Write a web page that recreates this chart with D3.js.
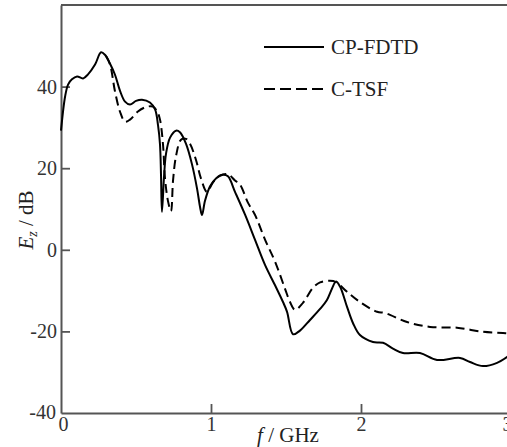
<!DOCTYPE html>
<html>
<head>
<meta charset="utf-8">
<script src="https://cdnjs.cloudflare.com/ajax/libs/d3/7.8.5/d3.min.js"></script>
<style>
    body { margin: 0; background: #fff; }
    text { font-family: "Liberation Serif", "DejaVu Serif", serif; }
</style>
</head>
<body>
<div id="chart"></div>
<script>
// frequency (GHz) and field (dB)
const fdtdFreq = [0, 0.027, 0.047, 0.073, 0.107, 0.147, 0.18, 0.227, 0.267, 0.293, 0.327, 0.36, 0.393, 0.427, 0.46, 0.5,
    0.54, 0.593, 0.627, 0.647, 0.66, 0.667, 0.673, 0.687, 0.7, 0.727, 0.767, 0.793, 0.833, 0.873, 0.907, 0.927, 0.94,
    0.96, 0.993, 1.033, 1.08, 1.113, 1.16, 1.227, 1.293, 1.36, 1.427, 1.48, 1.507, 1.547, 1.593, 1.66, 1.727, 1.773,
    1.807, 1.833, 1.86, 1.907, 1.947, 1.993, 2.08, 2.147, 2.213, 2.28, 2.393, 2.507, 2.66, 2.727, 2.813, 2.907, 2.973, 3.0];
const fdtdDb = [29.2, 37.5, 40.5, 41.8, 42.5, 42.0, 43.0, 45.4, 48.4, 47.8, 45.6, 42.9, 39.0, 36.3, 35.6, 36.5,
    36.8, 36.1, 34.4, 30.5, 25.8, 18, 9.3, 18, 23.5, 27.5, 29.2, 28.8, 26, 21, 15, 10.5, 8.5,
    12, 15.5, 17.5, 18.4, 18, 14.2, 8.6, 2.5, -3.7, -8.7, -12.8, -15.2, -20.7, -19.8, -17.2, -14.5, -12.3,
    -9.5, -7.8, -9, -14, -18, -20.9, -22.6, -22.8, -24.2, -25.3, -25.3, -27, -26.5, -27.5, -28.5, -27.7, -26.3, -25.5];

const tsfFreq = [0.3, 0.327, 0.36, 0.393, 0.427, 0.46, 0.513, 0.567, 0.613, 0.64, 0.66, 0.68, 0.693, 0.713, 0.733,
    0.747, 0.767, 0.8, 0.833, 0.86, 0.9, 0.933, 0.973, 1.013, 1.06, 1.113, 1.16, 1.193, 1.247, 1.293, 1.36, 1.427,
    1.493, 1.527, 1.56, 1.613, 1.68, 1.727, 1.793, 1.833, 1.907, 1.993, 2.107, 2.16, 2.307, 2.46, 2.64, 2.813, 2.947, 3.0];
const tsfDb = [47.5, 45.4, 38.8, 33.9, 31.4, 31.9, 33.9, 35, 35.1, 34, 31.9, 25.8, 17.7, 12, 9.5,
    17, 23, 27, 27.2, 26, 22, 17.5, 14.2, 16.5, 18.2, 18.5, 17, 16, 11.5, 8.6, 2.5, -2.9,
    -9.5, -12.8, -14.7, -13, -9.3, -8.0, -7.6, -7.9, -10.3, -12.8, -15.2, -15.5, -17.7, -18.9, -19.1, -20.1, -20.4, -20.5];

const xTicks = [0, 1, 2, 3];
const yTicks = [-40, -20, 0, 20, 40];
const seriesNames = ["CP-FDTD", "C-TSF"];

const canvWidth = 507, canvHeight = 447;
const plot = {left: 61, right: 511, top: 5, bottom: 413};
const serif = '"Liberation Serif", "DejaVu Serif", serif';

const svg = d3.select('#chart')
    .append('svg')
    .attr('width', canvWidth)
    .attr('height', canvHeight);

const x = d3.scaleLinear().domain([0, 3]).range([plot.left, plot.right]);
const y = d3.scaleLinear().domain([-40, 60]).range([plot.bottom, plot.top]);

const axisColor = "#555";

// frame (top and right edges)
svg.append("path")
    .attr("d", `M${plot.left},${plot.top}H${plot.right}V${plot.bottom}`)
    .attr("fill", "none")
    .attr("stroke", axisColor)
    .attr("stroke-width", 2);

// Y axis, ticks pointing inward
const yAxis = svg.append("g")
    .attr("transform", `translate(${plot.left},0)`)
    .call(d3.axisRight(y).tickValues(yTicks).tickSize(9).tickSizeOuter(0).tickFormat(d => d === -40 ? "" : d));
yAxis.select(".domain").attr("stroke", axisColor).attr("stroke-width", 2);
yAxis.selectAll(".tick line").attr("stroke", axisColor).attr("stroke-width", 1.8)
    .filter(d => d === -40).remove();
yAxis.selectAll(".tick text")
    .attr("x", -4)
    .attr("text-anchor", "end")
    .attr("font-family", serif)
    .style("font-size", "20px")
    .attr("fill", "#333");

// -40 label sits at the corner
svg.append("text")
    .attr("x", 56)
    .attr("y", y(-40))
    .attr("dy", "0.32em")
    .attr("text-anchor", "end")
    .style("font-size", "20px")
    .attr("fill", "#333")
    .text("-40");

// X axis, ticks pointing up
const xAxis = svg.append("g")
    .attr("transform", `translate(0,${plot.bottom})`)
    .call(d3.axisTop(x).tickValues(xTicks).tickSize(9).tickSizeOuter(0).tickFormat(d3.format("d")));
xAxis.select(".domain").attr("stroke", axisColor).attr("stroke-width", 2);
xAxis.selectAll(".tick line").attr("stroke", axisColor).attr("stroke-width", 1.8)
    .filter(d => d === 0).remove();
xAxis.selectAll(".tick text")
    .attr("y", 4)
    .attr("dy", "0.71em")
    .attr("x", d => d === 0 ? 2 : (d === 3 ? -4 : 0))
    .attr("font-family", serif)
    .style("font-size", "20px")
    .attr("fill", "#333");

// curves
const line = d3.line()
    .x(d => x(d[0]))
    .y(d => y(d[1]))
    .curve(d3.curveCatmullRom.alpha(0.5));

svg.append("path")
    .datum(d3.zip(fdtdFreq, fdtdDb))
    .attr("d", line)
    .attr("fill", "none")
    .attr("stroke", "#000")
    .attr("stroke-width", 2);

svg.append("path")
    .datum(d3.zip(tsfFreq, tsfDb))
    .attr("d", line)
    .attr("fill", "none")
    .attr("stroke", "#000")
    .attr("stroke-width", 2)
    .attr("stroke-dasharray", "9,5");

// legend
const legend = svg.append("g");
seriesNames.forEach((name, i) => {
    const ly = 47 + i * 42;
    legend.append("line")
        .attr("x1", 264).attr("x2", 324)
        .attr("y1", ly).attr("y2", ly)
        .attr("stroke", "#000")
        .attr("stroke-width", 2.2)
        .attr("stroke-dasharray", i === 1 ? "11,5" : null);
    legend.append("text")
        .attr("x", 331)
        .attr("y", ly + 7)
        .style("font-size", "21px")
        .attr("fill", "#222")
        .text(name);
});

// axis labels
const xLabel = svg.append("text")
    .attr("x", 288)
    .attr("y", 442)
    .attr("text-anchor", "middle")
    .style("font-size", "21px")
    .attr("fill", "#222");
xLabel.append("tspan").style("font-style", "italic").text("f");
xLabel.append("tspan").text(" / GHz");

const yLabel = svg.append("text")
    .attr("transform", "translate(33,220)rotate(-90)")
    .attr("text-anchor", "middle")
    .style("font-size", "21px")
    .attr("fill", "#222");
yLabel.append("tspan").style("font-style", "italic").text("E");
yLabel.append("tspan").style("font-style", "italic").style("font-size", "14px").attr("dy", 4).text("z");
yLabel.append("tspan").attr("dy", -4).text(" / dB");
</script>
</body>
</html>
